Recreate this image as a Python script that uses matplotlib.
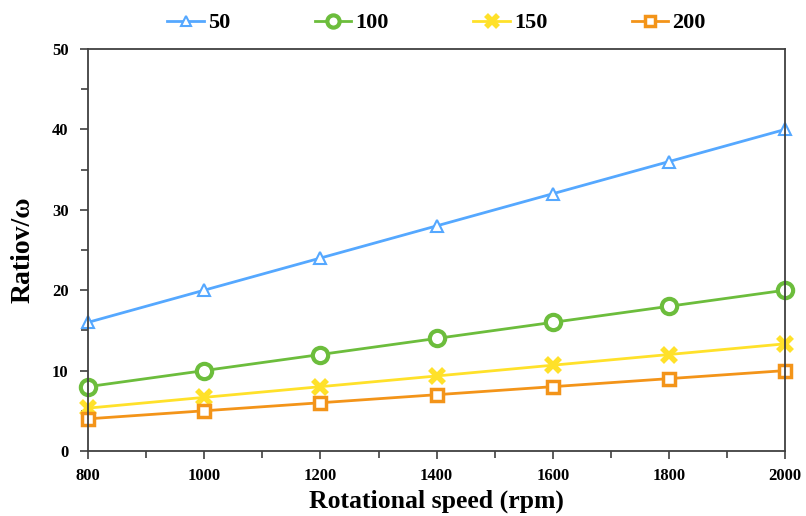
import numpy as np
import matplotlib.pyplot as plt
from matplotlib.ticker import MultipleLocator

plt.rcParams['font.family'] = ['Liberation Serif', 'DejaVu Serif']
plt.rcParams['font.weight'] = 'bold'

speed = [800, 1000, 1200, 1400, 1600, 1800, 2000]
r50 = [16, 20, 24, 28, 32, 36, 40]
r100 = [8, 10, 12, 14, 16, 18, 20]
r150 = [5.33, 6.67, 8, 9.33, 10.67, 12, 13.33]
r200 = [4, 5, 6, 7, 8, 9, 10]
labels = ['50', '100', '150', '200']

fig = plt.figure(figsize=(8.06, 5.16), dpi=100)
ax = fig.add_axes([0.1092, 0.126, 0.865, 0.779])

ax.plot(speed, r50, color='#55a8ff', lw=2, marker='^', ms=9, mfc='white', mec='#55a8ff', mew=1.5, label=labels[0], clip_on=False)
ax.plot(speed, r100, color='#6cbd3c', lw=2, marker='o', ms=11, mfc='white', mec='#6cbd3c', mew=3, label=labels[1], clip_on=False)
ax.plot(speed, r150, color='#ffe12a', lw=2, marker='x', ms=10, mec='#ffe12a', mew=4, label=labels[2], clip_on=False)
ax.plot(speed, r200, color='#f39419', lw=2, marker='s', ms=9, mfc='white', mec='#f39419', mew=2.5, label=labels[3], clip_on=False)

ax.set_xlim(800, 2000)
ax.set_ylim(0, 50)
ax.xaxis.set_major_locator(MultipleLocator(200))
ax.xaxis.set_minor_locator(MultipleLocator(100))
ax.yaxis.set_major_locator(MultipleLocator(10))
ax.yaxis.set_minor_locator(MultipleLocator(5))
ax.tick_params(which='both', direction='out', color='#404040', width=1.2)
ax.tick_params(which='major', length=6, labelsize=12)
ax.tick_params(which='minor', length=5)
ax.tick_params(axis='x', pad=6)
ax.tick_params(axis='y', pad=8)
for s in ax.spines.values():
    s.set_color('#404040')
    s.set_linewidth(1.3)

ax.set_xlabel('Rotational speed (rpm)', fontsize=18.5, fontweight='bold', labelpad=4)
ax.set_ylabel('Ratiov/ω', fontsize=20, fontweight='bold', labelpad=12)

leg = ax.legend(loc='lower center', bbox_to_anchor=(0.5, 1.0), ncol=4, frameon=False,
                fontsize=16, columnspacing=3.8, handlelength=1.65, handletextpad=0.18,
                borderaxespad=0.3, markerscale=0.8)

fig.savefig('out.png', dpi=100)
